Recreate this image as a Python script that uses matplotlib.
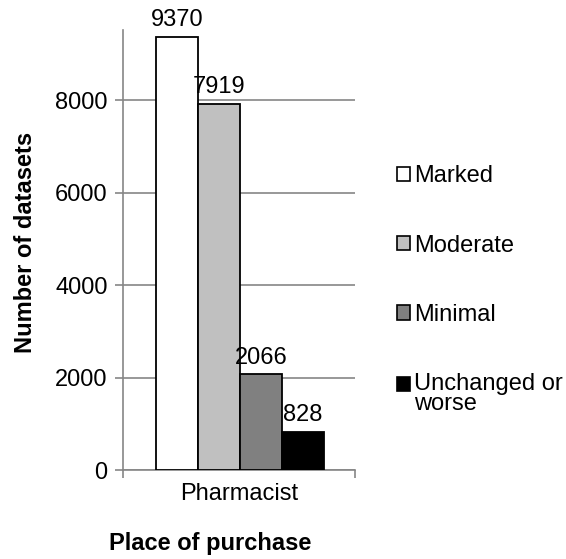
import matplotlib.pyplot as plt
from matplotlib.patches import Patch

plt.rcParams['font.family'] = ['Liberation Sans', 'DejaVu Sans']

category = "Pharmacist"
series = ["Marked", "Moderate", "Minimal", "Unchanged or\nworse"]
values = [9370, 7919, 2066, 828]
colors = ["#FFFFFF", "#C0C0C0", "#808080", "#000000"]

grey = "#868686"
fs = 17

fig = plt.figure(figsize=(5.66, 5.59), dpi=100)
ax = fig.add_axes([0.2173, 0.1592, 0.41, 0.787])

width = 0.181
start = -0.358 + width / 2
for i, (name, v, c) in enumerate(zip(series, values, colors)):
    x = start + i * width
    ax.bar(x, v, width=width, color=c, edgecolor="black", linewidth=1.3, zorder=3)
    ax.text(x, v + 120, f"{v}", ha="center", va="bottom", fontsize=fs, zorder=4)

ax.set_xlim(-0.5, 0.5)
ax.set_ylim(0, 9514)
ax.set_yticks([0, 2000, 4000, 6000, 8000])
ax.yaxis.grid(True, color=grey, linewidth=1.2, zorder=0)
ax.set_axisbelow(True)

ax.set_xticks([0])
ax.set_xticklabels([category])
ax.set_xticks([-0.5, 0.5], minor=True)
ax.tick_params(axis="x", which="major", length=0, pad=9, labelsize=fs)
ax.tick_params(axis="x", which="minor", length=6, color=grey, width=1.2)
ax.tick_params(axis="y", length=6, color=grey, width=1.2, pad=5, labelsize=fs)

for s in ["top", "right"]:
    ax.spines[s].set_visible(False)
for s in ["left", "bottom"]:
    ax.spines[s].set_color(grey)
    ax.spines[s].set_linewidth(1.2)

ax.set_xlabel("Place of purchase", fontsize=fs, fontweight="bold")
ax.set_ylabel("Number of datasets", fontsize=fs, fontweight="bold")
ax.xaxis.set_label_coords(0.375, -0.141)
ax.yaxis.set_label_coords(-0.37, 0.518)

handles = [Patch(facecolor=c, edgecolor="black", linewidth=1.2) for c in colors]
leg = fig.legend(handles, series, loc="upper left", bbox_to_anchor=(0.685, 0.721),
                 frameon=False, fontsize=fs, handlelength=0.55, handleheight=0.55,
                 handletextpad=0.15, labelspacing=2.0, borderaxespad=0)
# tight two-line label, square next to the first line like the original
leg.get_texts()[3].set_linespacing(0.9)
last = leg.legend_handles[3]
last.set_y(last.get_y() + 0.45 * fs)

fig.savefig("out.png", dpi=100)
